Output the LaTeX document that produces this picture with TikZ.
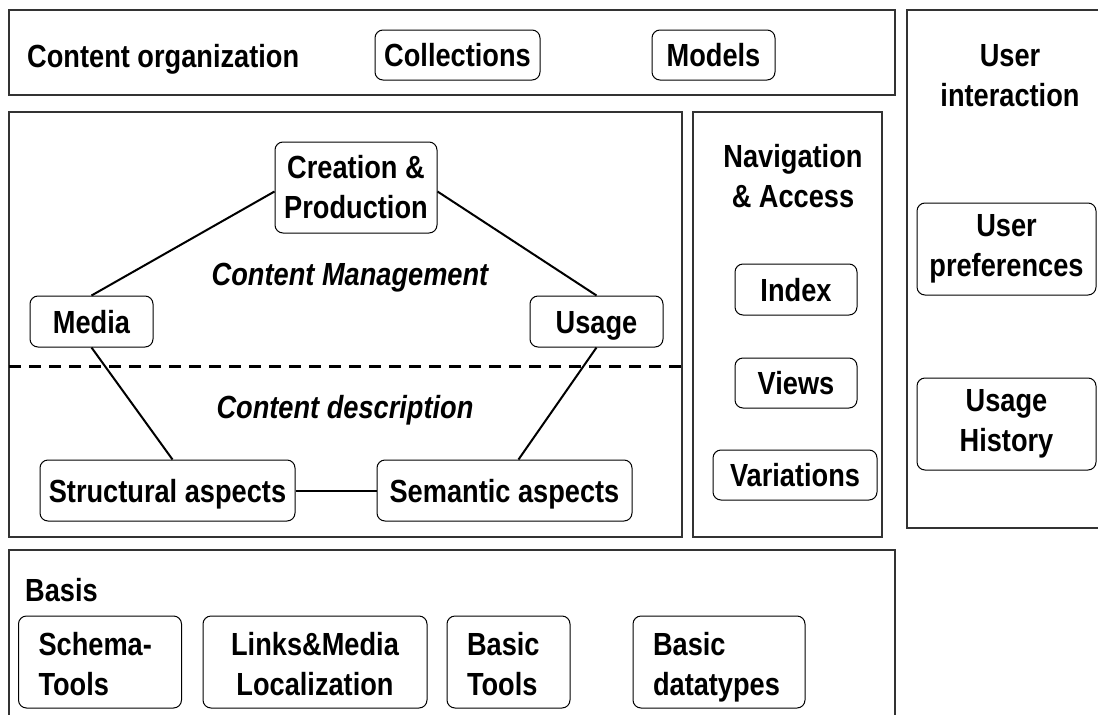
\documentclass[tikz,border=0pt]{standalone}
\usepackage{fontspec}
\setmainfont{Liberation Sans}[FakeStretch=0.85]
\usetikzlibrary{positioning}
\tikzset{
  frame/.style={draw=black!80, line width=1.3pt},
  box/.style={draw, rounded corners=8pt, line width=1pt, align=center,
    inner sep=0pt, font=\bfseries\fontsize{32}{40}\selectfont},
  onebox/.style={box, text height=25pt, text depth=2pt},
  leftbox/.style={box, align=left, inner xsep=20pt},
  lbl/.style={align=center, inner sep=0pt, font=\bfseries\fontsize{32}{40}\selectfont},
  emph/.style={lbl, font=\bfseries\itshape\fontsize{32}{40}\selectfont},
  link/.style={line width=2pt},
  sep/.style={line width=3pt, dash pattern=on 12pt off 8pt}
}
\newcommand{\toprule}{\rule{0pt}{38pt}}
\begin{document}
\begin{tikzpicture}[x=1pt,y=-1pt]
  \useasboundingbox (0,0) rectangle (1098,715);

  % frames
  \draw[frame] (9,10) rectangle (895,95);
  \draw[frame] (9,112) rectangle (682,537);
  \draw[frame] (693,112) rectangle (882,537);
  \draw[frame] (907,10) rectangle (1110,528);
  \draw[frame] (9,720) -- (9,550) -- (895,550) -- (895,720);

  % content organization
  \node[lbl, anchor=base west] (org) at (27,67) {Content organization};
  \node[onebox, minimum width=165pt, minimum height=50pt] (coll) at (457.5,55) {Collections};
  \node[onebox, minimum width=123pt, minimum height=50pt] (models) at (713.5,55) {Models};

  % content management
  \node[box, minimum width=162pt, minimum height=91pt] (crea) at (356,187.5) {Creation \&\\Production};
  \node[onebox, minimum width=123pt, minimum height=51pt] (media) at (91.5,321.5) {Media};
  \node[onebox, minimum width=133pt, minimum height=51pt] (usage) at (596.5,321.5) {Usage};
  \node[onebox, minimum width=255pt, minimum height=61pt] (struct) at (167.5,490.5) {Structural aspects};
  \node[onebox, minimum width=255pt, minimum height=61pt] (sem) at (504.5,490.5) {Semantic aspects};
  \node[emph] (mgmt) at (350,278) {Content Management};
  \node[emph] (descr) at (345,410) {Content description};

  \draw[sep] (9,366) -- (682,366);

  \draw[link] ([yshift=-4pt]crea.west) -- (media.north);
  \draw[link] ([yshift=-4pt]crea.east) -- (usage.north);
  \draw[link] (media.south) -- ([xshift=5pt]struct.north);
  \draw[link] (usage.south) -- ([xshift=14pt]sem.north);
  \draw[link] (struct.east) -- (sem.west);

  % navigation
  \node[lbl] (nav) at (793,176) {Navigation\\\& Access};
  \node[onebox, minimum width=122pt, minimum height=51pt] (index) at (796,289.5) {Index};
  \node[onebox, minimum width=122pt, minimum height=50pt] (views) at (796,383) {Views};
  \node[onebox, minimum width=164pt, minimum height=50pt] (var) at (795,475) {Variations};

  % user interaction
  \node[lbl] (user) at (1010,76) {User\\interaction};
  \node[box, minimum width=179pt, minimum height=92pt] (pref) at (1006.5,249) {User\\preferences};
  \node[box, minimum width=179pt, minimum height=92pt] (hist) at (1006.5,424) {Usage\\History};

  % basis
  \node[lbl, anchor=base west] (basis) at (25,601) {Basis};
  \node[leftbox, text width=123pt, minimum height=92pt] (schema) at (100,662) {\toprule Schema-\\Tools\strut};
  \node[box, minimum width=224pt, minimum height=92pt] (links) at (315,662) {\toprule Links\&Media\\Localization\strut};
  \node[leftbox, text width=83pt, minimum height=92pt] (btools) at (508.5,662) {\toprule Basic\\Tools\strut};
  \node[leftbox, text width=132pt, minimum height=92pt] (btypes) at (719,662) {\toprule Basic\\datatypes\strut};
\end{tikzpicture}
\end{document}
